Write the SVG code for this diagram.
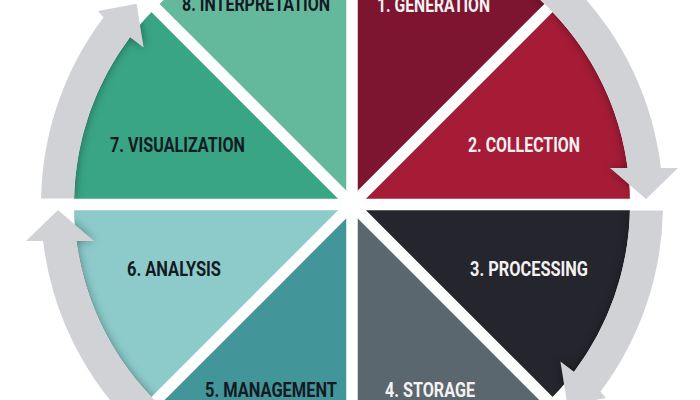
<svg xmlns="http://www.w3.org/2000/svg" width="700" height="400" viewBox="0 0 700 400">
  <defs>
    <style>
      .lbl { font-family: Roboto, "Liberation Sans", "DejaVu Sans", sans-serif; font-weight: 700; font-size: 20px; }
      .light { fill: #f5f1f2; }
      .dark { fill: #141a23; }
      .arrow { fill: #d0d2d6; }
      .shadow { fill: #000000; opacity: 0.4; }
      .gap { stroke: #ffffff; stroke-width: 11.5; fill: none; }
    </style>
    <filter id="blur" x="-20%" y="-20%" width="140%" height="140%">
      <feGaussianBlur stdDeviation="5"/>
    </filter>
    <clipPath id="disc">
      <circle cx="352" cy="204.5" r="278"/>
    </clipPath>
    <path id="arrowA" d="M406.0,-101.8 A311,311 0 0 1 660.9,168 L678,168 L646,199 L610,168 L627.6,168 A278,278 0 0 0 400.3,-69.3 Z"/>
    <path id="arrowD" d="M41.06,198.5 L74.06,198.5 A278,278 0 0 1 130.0,37.2 L143.6,47.4 L136.6,3.7 L98,11 L103.6,17.3 A311,311 0 0 0 41.06,198.5 Z"/>
  </defs>

  <rect width="700" height="400" fill="#ffffff"/>

  <g id="node-1">
    <path d="M352,204.5 L352,-73.5 A278,278 0 0 1 548.58,7.92 Z" fill="#7e1530"/>
    <text class="lbl light" x="377" y="12" textLength="113" lengthAdjust="spacingAndGlyphs">1. GENERATION</text>
  </g>
  <g id="node-2">
    <path d="M352,204.5 L548.58,7.92 A278,278 0 0 1 630,204.5 Z" fill="#a61c37"/>
    <text class="lbl light" x="468" y="152" textLength="112" lengthAdjust="spacingAndGlyphs">2. COLLECTION</text>
  </g>
  <g id="node-3">
    <path d="M352,204.5 L630,204.5 A278,278 0 0 1 548.58,401.08 Z" fill="#25262d"/>
    <text class="lbl light" x="470" y="276" textLength="118" lengthAdjust="spacingAndGlyphs">3. PROCESSING</text>
  </g>
  <g id="node-4">
    <path d="M352,204.5 L548.58,401.08 A278,278 0 0 1 352,482.5 Z" fill="#5a676f"/>
    <text class="lbl light" x="385" y="397" textLength="90" lengthAdjust="spacingAndGlyphs">4. STORAGE</text>
  </g>
  <g id="node-5">
    <path d="M352,204.5 L352,482.5 A278,278 0 0 1 155.42,401.08 Z" fill="#42969a"/>
    <text class="lbl dark" x="205" y="397" textLength="132" lengthAdjust="spacingAndGlyphs">5. MANAGEMENT</text>
  </g>
  <g id="node-6">
    <path d="M352,204.5 L155.42,401.08 A278,278 0 0 1 74,204.5 Z" fill="#8dcbcb"/>
    <text class="lbl dark" x="127" y="276" textLength="94" lengthAdjust="spacingAndGlyphs">6. ANALYSIS</text>
  </g>
  <g id="node-7">
    <path d="M352,204.5 L74,204.5 A278,278 0 0 1 155.42,7.92 Z" fill="#39a584"/>
    <text class="lbl dark" x="110" y="152" textLength="135" lengthAdjust="spacingAndGlyphs">7. VISUALIZATION</text>
  </g>
  <g id="node-8">
    <path d="M352,204.5 L155.42,7.92 A278,278 0 0 1 352,-73.5 Z" fill="#64b99d"/>
    <text class="lbl dark" x="182" y="10.5" textLength="148" lengthAdjust="spacingAndGlyphs">8. INTERPRETATION</text>
  </g>

  <g id="shadows" clip-path="url(#disc)">
    <g filter="url(#blur)">
      <use href="#arrowA" class="shadow"/>
      <use href="#arrowA" class="shadow" transform="rotate(180 352 204.5)"/>
      <use href="#arrowD" class="shadow"/>
      <use href="#arrowD" class="shadow" transform="rotate(180 352 204.5)"/>
    </g>
  </g>

  <g id="gaps">
    <line class="gap" x1="352" y1="-90" x2="352" y2="500"/>
    <line class="gap" x1="60" y1="204.5" x2="644" y2="204.5"/>
    <line class="gap" x1="142" y1="-5.5" x2="562" y2="414.5"/>
    <line class="gap" x1="562" y1="-5.5" x2="142" y2="414.5"/>
  </g>

  <g id="connectors">
    <use href="#arrowA" class="arrow"/>
    <use href="#arrowA" class="arrow" transform="rotate(180 352 204.5)"/>
    <use href="#arrowD" class="arrow"/>
    <use href="#arrowD" class="arrow" transform="rotate(180 352 204.5)"/>
  </g>
</svg>
